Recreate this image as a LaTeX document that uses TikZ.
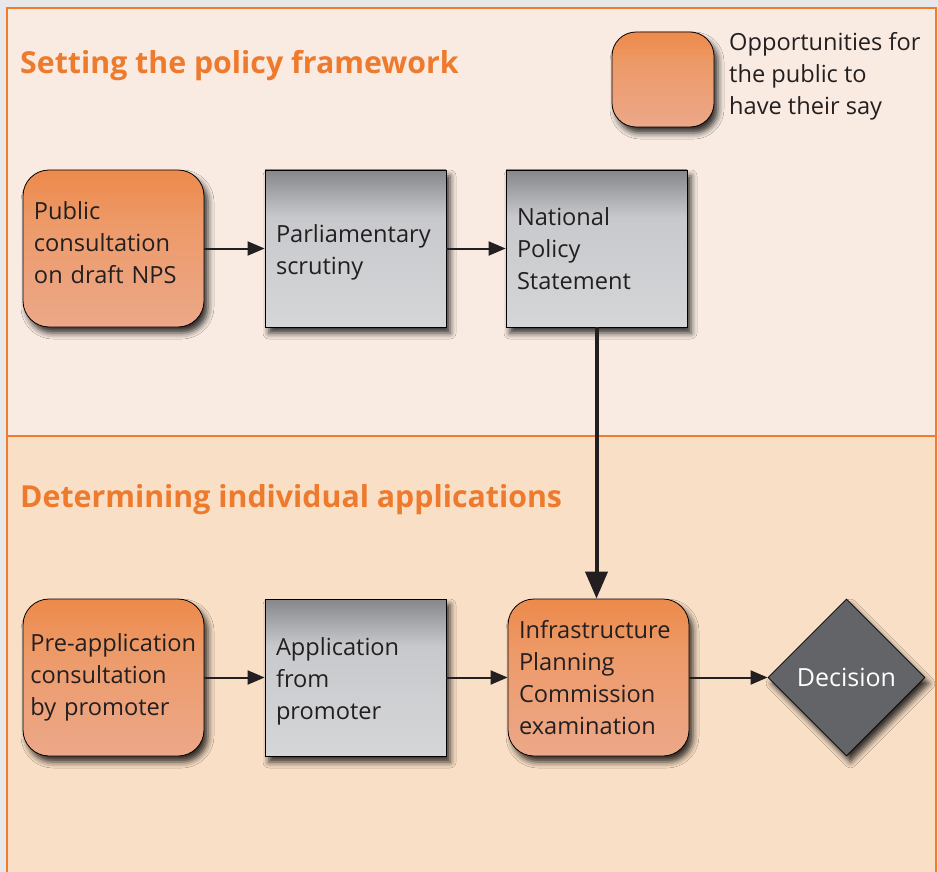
\documentclass[tikz,border=0pt]{standalone}
\usepackage{fontspec}
\setmainfont{Open Sans}
\usetikzlibrary{shapes.geometric,arrows.meta,shadows.blur}
\definecolor{outergrey}{RGB}{232,232,234}
\definecolor{panelA}{RGB}{249,235,225}
\definecolor{panelB}{RGB}{249,223,198}
\definecolor{frameorange}{RGB}{239,125,45}
\definecolor{titleorange}{RGB}{238,122,45}
\definecolor{textdark}{RGB}{35,31,32}
\definecolor{orTop}{RGB}{236,120,42}
\definecolor{orMid}{RGB}{237,154,105}
\definecolor{orBot}{RGB}{236,168,137}
\definecolor{grTop}{RGB}{106,107,111}
\definecolor{grMid}{RGB}{200,201,204}
\definecolor{grBot}{RGB}{213,214,216}
\definecolor{diamondgrey}{RGB}{99,100,104}
\pgfdeclareverticalshading{greyshade}{100bp}{color(0bp)=(grBot); color(25bp)=(grBot); color(60bp)=(grMid); color(75bp)=(grTop!70!grMid); color(100bp)=(grTop)}
\pgfdeclareverticalshading{orangeshade}{100bp}{color(0bp)=(orBot); color(25bp)=(orBot); color(58bp)=(orMid); color(70bp)=(orMid!65!orTop); color(100bp)=(orTop)}
\tikzset{
  softshadow/.style={blur shadow={shadow xshift=4pt, shadow yshift=-6pt, shadow blur radius=6pt, shadow opacity=80}},
  boxtext/.style={font=\fontsize{23.6}{32}\selectfont, text=textdark, align=left, inner sep=0pt},
  publicbox/.style={draw=black, line width=0.8pt, rounded corners=26pt,
    shading=orangeshade,
    minimum width=181pt, minimum height=157pt, text width=159pt,
    boxtext, softshadow},
  stagebox/.style={draw=black, line width=0.8pt,
    shading=greyshade,
    minimum width=181pt, minimum height=157pt, text width=159pt,
    boxtext, softshadow},
  decisionbox/.style={diamond, draw=black, line width=0.8pt, fill=diamondgrey,
    minimum width=157pt, minimum height=157pt, inner sep=0pt, aspect=1,
    font=\fontsize{25}{32}\selectfont, text=white, softshadow},
  sectiontitle/.style={font=\fontsize{30.3}{36}\selectfont\bfseries, text=titleorange, anchor=base west, inner sep=0pt},
  flow/.style={line width=2pt, draw=textdark, -{Triangle[length=17pt,width=14pt]}},
  bigflow/.style={line width=4pt, draw=textdark, -{Triangle[length=27pt,width=22pt]}}
}
\begin{document}
\begin{tikzpicture}[x=1pt,y=-1pt]
\useasboundingbox (0,0) rectangle (938,872);
\fill[outergrey] (0,0) rectangle (938,872);
\fill[panelA] (7,8) rectangle (936,436);
\fill[panelB] (7,436) rectangle (936,872);
\draw[frameorange, line width=2pt] (7,880) -- (7,8) -- (936,8) -- (936,880);
\draw[frameorange, line width=2pt] (7,436) -- (936,436);

\node[sectiontitle] (t1) at (20,74) {Setting the policy framework};
\node[sectiontitle] (t2) at (20,507) {Determining individual applications};

% legend
\node[draw=black, line width=0.8pt, rounded corners=24pt, shading=orangeshade,
  minimum width=102pt, minimum height=95pt, softshadow] (leg) at (663,79.5) {};
\node[boxtext, anchor=west] (legtext) at (729,76) {Opportunities for\\the public to\\have their say};

% top row
\node[publicbox] (pc) at (113.5,248.5) {Public\\consultation\\on draft NPS\par\vspace*{12pt}};
\node[stagebox] (ps) at (355.5,248.5) {\\[-6pt]Parliamentary\\scrutiny};
\node[stagebox] (nps) at (596.5,248.5) {National\\Policy\\Statement};

% bottom row
\node[publicbox, text width=166pt] (pa) at (113.5,677.5) {\mbox{Pre-application}\\consultation\\by promoter};
\node[stagebox] (ap) at (355.5,677.5) {\\[-6pt]Application\\from\\promoter};
\node[publicbox] (ipc) at (598.5,677.5) {Infrastructure\\Planning\\Commission\\examination};
\node[decisionbox] (dec) at (846.5,677.5) {Decision};

\draw[flow] (pc.east) -- (ps.west);
\draw[flow] (ps.east) -- (nps.west);
\draw[bigflow] (nps.south) -- (ipc.north -| nps.south);
\draw[flow] (pa.east) -- (ap.west);
\draw[flow] (ap.east) -- (ipc.west);
\draw[flow] (ipc.east) -- (dec.west);
\end{tikzpicture}
\end{document}
